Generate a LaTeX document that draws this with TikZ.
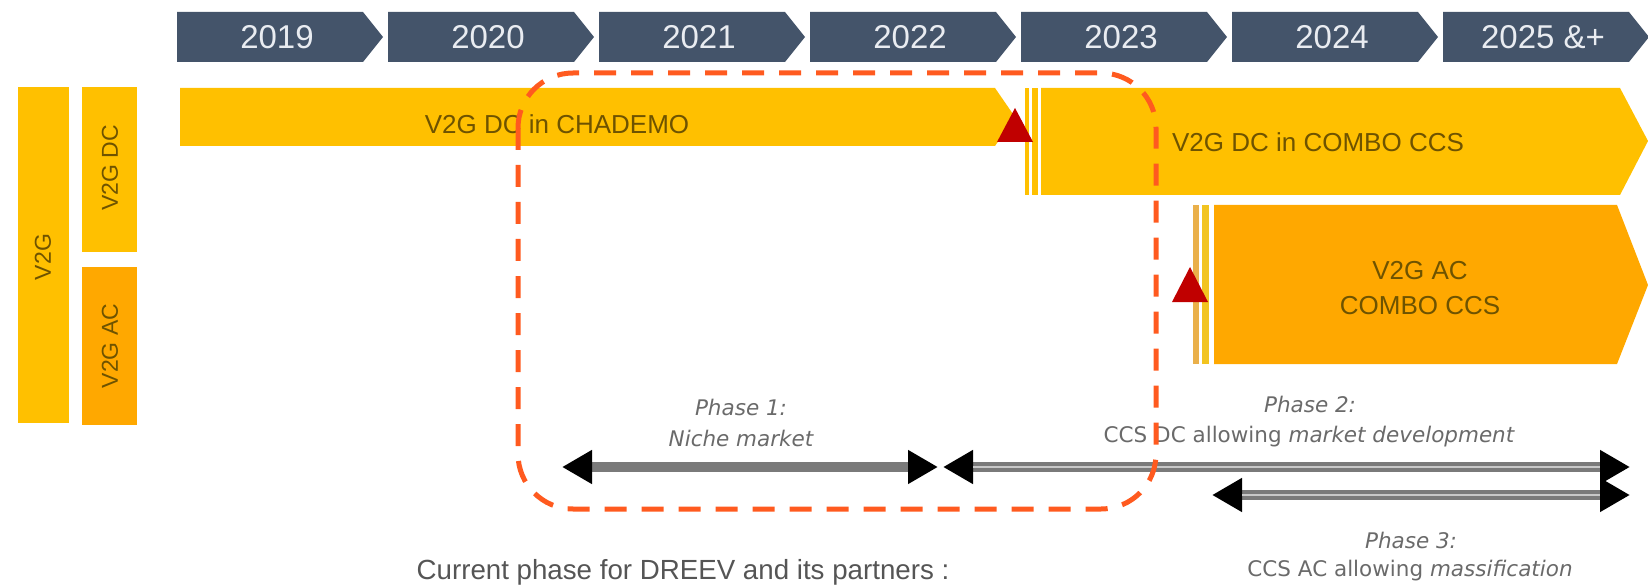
\documentclass[tikz,border=0pt]{standalone}
\usepackage{fontspec}
\setmainfont{Liberation Sans}
\newfontfamily\phasefont{DejaVu Sans}
\usetikzlibrary{arrows.meta}
\definecolor{slate}{HTML}{44546A}
\definecolor{yeartxt}{HTML}{E9ECF1}
\definecolor{gold}{HTML}{FFC000}
\definecolor{amber}{HTML}{FFA800}
\definecolor{stripeA}{HTML}{EAB04A}
\definecolor{stripeB}{HTML}{F2C420}
\definecolor{brownt}{HTML}{6E5300}
\definecolor{mark}{HTML}{C00000}
\definecolor{dashor}{HTML}{FF5A1F}
\definecolor{phasegray}{HTML}{6A6A6A}
\definecolor{shaftgray}{HTML}{7A7A7A}
\definecolor{shaftlight}{HTML}{C8C8C8}
\definecolor{capgray}{HTML}{555555}
\begin{document}
\begin{tikzpicture}[x=1pt,y=-1pt,
  yearbox/.style={fill=slate},
  yeartext/.style={text=yeartxt,font=\fontsize{33}{40}\selectfont,inner sep=0pt},
  dcbar/.style={fill=gold},
  acbar/.style={fill=amber},
  bartext/.style={text=brownt,font=\fontsize{26}{35}\selectfont,inner sep=0pt,align=center},
  sidetext/.style={text=brownt,font=\fontsize{23}{28}\selectfont,rotate=90,inner sep=0pt},
  milestone/.style={fill=mark},
  phaseup/.style={text=phasegray,font=\phasefont\fontsize{21.5}{26}\selectfont,inner sep=0pt},
  phaseit/.style={text=phasegray,font=\phasefont\itshape\fontsize{21.5}{26}\selectfont,inner sep=0pt},
  phasearrow/.style={draw=shaftgray,line width=10pt,
    arrows={Triangle[length=30pt,width=32pt,color=black]-Triangle[length=30pt,width=32pt,color=black]}},
  focus/.style={draw=dashor,line width=5pt,dash pattern=on 22pt off 15pt,rounded corners=55pt},
  captext/.style={text=capgray,font=\fontsize{27.7}{33}\selectfont,inner sep=0pt}]
\useasboundingbox (0,0) rectangle (1648,585);

% timeline chevrons
\foreach \i/\yr in {0/2019,1/2020,2/2021,3/2022,4/2023,5/2024,6/2025 \&+}{
  \pgfmathsetmacro{\xo}{177+211*\i}
  \fill[yearbox] (\xo,12) -- ++(186,0) -- ++(20,25) -- ++(-20,25) -- (\xo,62) -- cycle;
  \node[yeartext] (year\i) at (\xo+100,37) {\yr};
}

% left category bars
\fill[dcbar] (18,87) rectangle (69,423);
\fill[dcbar] (82,87) rectangle (137,252);
\fill[acbar] (82,267) rectangle (137,425);
\node[sidetext] (v2g) at (43,257) {V2G};
\node[sidetext] (v2gdc) at (110,168) {V2G DC};
\node[sidetext] (v2gac) at (110,346) {V2G AC};

% bar 1: CHADEMO
\fill[dcbar] (180,88) -- (995,88) -- (1015,117) -- (995,146) -- (180,146) -- cycle;
\node[bartext] (chademo) at (557,124) {V2G DC in CHADEMO};

% bar 2: COMBO CCS DC
\fill[dcbar] (1025,88) rectangle (1029,195);
\fill[dcbar] (1032,88) rectangle (1038,195);
\fill[dcbar] (1041,88) -- (1620,88) -- (1648,141) -- (1620,195) -- (1041,195) -- cycle;
\node[bartext] (combodc) at (1318,142) {V2G DC in COMBO CCS};

% bar 3: COMBO CCS AC
\fill[stripeA] (1193,205) rectangle (1199,364);
\fill[stripeB] (1202,205) rectangle (1209,364);
\fill[acbar] (1214,205) -- (1617,205) -- (1648,285) -- (1617,364) -- (1214,364) -- cycle;
\node[bartext] (comboac) at (1420,288) {V2G AC\\COMBO CCS};

% milestones
\fill[milestone] (997,142) -- (1015,108) -- (1033,142) -- cycle;
\fill[milestone] (1172,302) -- (1190,267) -- (1208,302) -- cycle;

% phase arrows
\coordinate (p1a) at (562,467);
\coordinate (p1b) at (938,467);
\coordinate (p2a) at (943,467);
\coordinate (p2b) at (1630,467);
\coordinate (p3a) at (1212,495);
\coordinate (p3b) at (1630,495);
\draw[phasearrow] (p1a) -- (p1b);
\draw[phasearrow] (p2a) -- (p2b);
\draw[phasearrow] (p3a) -- (p3b);
\draw[shaftlight,line width=1.8pt] ([xshift=30pt]p2a) -- ([xshift=-30pt]p2b);
\draw[shaftlight,line width=1.8pt] ([xshift=30pt]p3a) -- ([xshift=-30pt]p3b);

% phase labels
\node[phaseit] (ph1t) at (741,407) {Phase 1:};
\node[phaseit] (ph1s) at (741,438) {Niche market};
\node[phaseit] (ph2t) at (1310,404) {Phase 2:};
\node[phaseup] (ph2s) at (1309,437) {CCS DC allowing {\itshape market development}};
\node[phaseit] (ph3t) at (1411,540) {Phase 3:};
\node[phaseup] (ph3s) at (1410,571) {CCS AC allowing {\itshape massification}};

% current phase focus
\draw[focus] (518,73) rectangle (1156,509);
\node[captext] (caption) at (683,572) {Current phase for DREEV and its partners :};
\end{tikzpicture}
\end{document}
